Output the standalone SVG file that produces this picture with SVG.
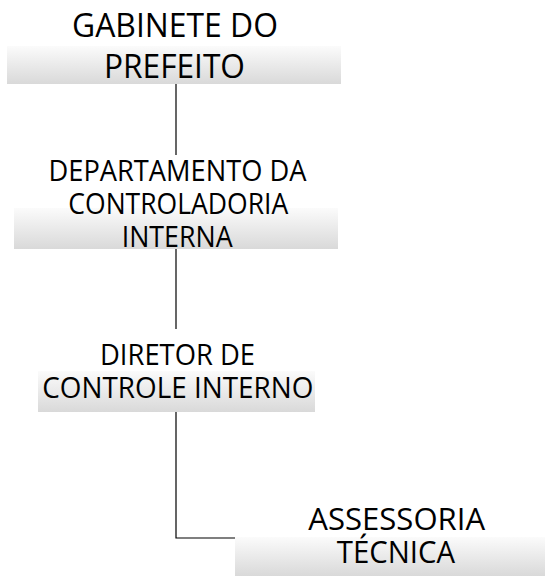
<svg xmlns="http://www.w3.org/2000/svg" width="545" height="576" viewBox="0 0 545 576">
<defs>
<linearGradient id="boxGrad" x1="0" y1="0" x2="0" y2="1">
<stop offset="0" stop-color="#fbfbfb"/>
<stop offset="1" stop-color="#d9d9d9"/>
</linearGradient>
</defs>
<style>
.box{fill:url(#boxGrad);stroke:none}
.lbl{font-family:"Open Sans","Liberation Sans",sans-serif;fill:#000;text-anchor:middle}
.conn{stroke:#000;stroke-width:1.2;fill:none}
</style>
<rect width="545" height="576" fill="#fff"/>
<g id="connectors">
<line class="conn" x1="176" y1="84" x2="176" y2="155"/>
<line class="conn" x1="176" y1="249" x2="176" y2="329"/>
<polyline class="conn" points="176,412 176,538 235,538"/>
</g>
<g id="gabinete">
<rect class="box" x="7" y="46" width="334" height="38"/>
<text class="lbl" x="175" y="37.3" font-size="33.5" textLength="206" lengthAdjust="spacingAndGlyphs">GABINETE DO</text>
<text class="lbl" x="174.5" y="77.7" font-size="33.5" textLength="141" lengthAdjust="spacingAndGlyphs">PREFEITO</text>
</g>
<g id="departamento">
<rect class="box" x="14" y="208" width="324" height="41"/>
<text class="lbl" x="177.5" y="180.7" font-size="29" textLength="258" lengthAdjust="spacingAndGlyphs">DEPARTAMENTO DA</text>
<text class="lbl" x="178.3" y="214" font-size="29" textLength="220" lengthAdjust="spacingAndGlyphs">CONTROLADORIA</text>
<text class="lbl" x="177.2" y="246.7" font-size="29" textLength="111" lengthAdjust="spacingAndGlyphs">INTERNA</text>
</g>
<g id="diretor">
<rect class="box" x="38" y="371" width="277" height="41"/>
<text class="lbl" x="177.5" y="365" font-size="29" textLength="155" lengthAdjust="spacingAndGlyphs">DIRETOR DE</text>
<text class="lbl" x="177.8" y="398.3" font-size="29" textLength="271" lengthAdjust="spacingAndGlyphs">CONTROLE INTERNO</text>
</g>
<g id="assessoria">
<rect class="box" x="235" y="537" width="310" height="39"/>
<text class="lbl" x="396.7" y="530" font-size="31.2" textLength="176.7" lengthAdjust="spacingAndGlyphs">ASSESSORIA</text>
<text class="lbl" x="395.9" y="563.3" font-size="31.2" textLength="118.3" lengthAdjust="spacingAndGlyphs">TÉCNICA</text>
</g>
</svg>
